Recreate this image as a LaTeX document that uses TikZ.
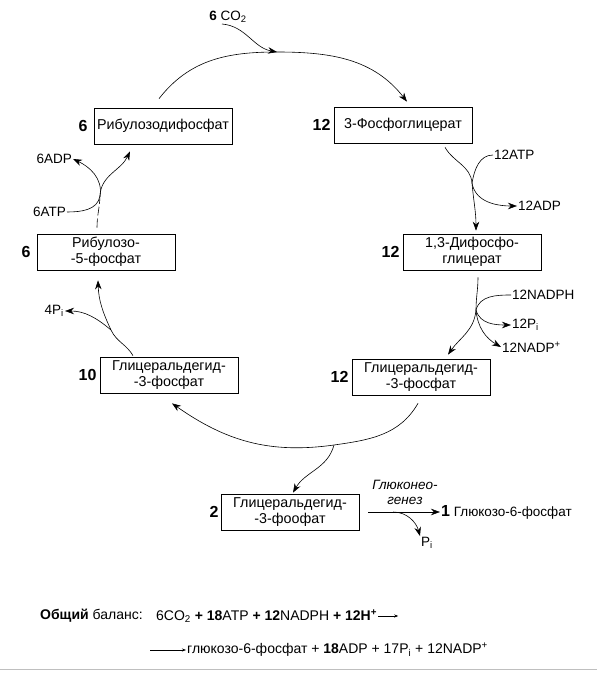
\documentclass[tikz,border=0pt]{standalone}
\usepackage{fontspec}
\setmainfont{Liberation Sans}
\usetikzlibrary{arrows.meta,positioning}

\tikzset{
  stage/.style={draw, line width=0.7pt, minimum width=138pt, minimum height=36pt,
    align=center, inner sep=1pt, font=\fontsize{14.3}{16}\selectfont},
  num/.style={inner sep=1pt, font=\fontsize{16}{18}\selectfont\bfseries},
  lbl/.style={inner sep=1pt, font=\fontsize{13.5}{15}\selectfont},
  arr/.style={line width=0.6pt, -{Stealth[length=9pt,width=6.5pt]}},
  link/.style={line width=0.6pt},
  sarr/.style={line width=0.6pt, -{Stealth[length=4pt,width=3pt]}},
}

\begin{document}
\begin{tikzpicture}[x=1pt, y=1pt]
  \useasboundingbox (0,0) rectangle (597,673);

  % ==================================================
  % Boxes of the cycle
  % ==================================================
  \node[stage] (rbp)  at (163,547) {Рибулозодифосфат};
  \node[stage] (pga)  at (403,548) {3-Фосфоглицерат};
  \node[stage] (bpg)  at (472,421) {1,3-Дифосфо-\\глицерат};
  \node[stage] (gapr) at (421,296) {Глицеральдегид-\\-3-фосфат};
  \node[stage] (gapl) at (169,298) {Глицеральдегид-\\-3-фосфат};
  \node[stage] (rup)  at (106,421) {Рибулозо-\\-5-фосфат};
  \node[stage] (gapb) at (290,161) {Глицеральдегид-\\-3-фоофат};

  % -- numbers of molecules
  \node[num, left=5pt of rbp]  (nrbp)  {6};
  \node[num, left=2pt of pga]  (npga)  {12};
  \node[num, left=2pt of bpg]  (nbpg)  {12};
  \node[num, left=2pt of gapr] (ngapr) {12};
  \node[num, left=2pt of gapl] (ngapl) {10};
  \node[num, left=5pt of rup]  (nrup)  {6};
  \node[num, left=1pt of gapb] (ngapb) {2};

  % ==================================================
  % Side substances
  % ==================================================
  \node[lbl] (co2) at (228,656) {\textbf{6} CO\textsubscript{2}};
  \node[lbl, anchor=west] (atpr)  at (493,518) {12ATP};
  \node[lbl, anchor=west] (adpr)  at (517,467) {12ADP};
  \node[lbl, anchor=west] (nadph) at (511,378) {12NADPH};
  \node[lbl, anchor=west] (pir)   at (511,348) {12P\textsubscript{i}};
  \node[lbl, anchor=west] (nadp)  at (501,326) {12NADP\textsuperscript{+}};
  \node[lbl, anchor=east] (pil)   at (65,362)  {4P\textsubscript{i}};
  \node[lbl, anchor=east] (atpl)  at (67,461)  {6ATP};
  \node[lbl, anchor=east] (adpl)  at (73,514)  {6ADP};
  \node[lbl, align=center, font=\fontsize{13.5}{15}\selectfont\itshape] (gng) at (405,181) {Глюконео-\\генез};
  \node[lbl, anchor=west] (glc) at (440,161) {{\fontsize{16}{18}\selectfont\bfseries 1} Глюкозо-6-фосфат};
  \node[lbl] (pib) at (427,130) {P\textsubscript{i}};

  % -- points where side arrows meet the cycle
  \coordinate (jco)   at (277,621);
  \coordinate (jatp)  at (472,490);
  \coordinate (jnad)  at (476,363);
  \coordinate (jbr)   at (334,228);
  \coordinate (jpi)   at (111,343);
  \coordinate (jatpl) at (100,477);
  \coordinate (jglc)  at (393,161);

  % ==================================================
  % Arrows of the cycle
  % ==================================================
  % -- top: carboxylation
  \draw[arr] ([shift={(-4,9)}]rbp.north) to[out=52,in=180] (jco)
    to[out=0,in=128] ([shift={(4,5)}]pga.north);
  \draw[arr] ([xshift=-6pt]co2.south) to[out=-5,in=170] (jco);

  % -- right: phosphorylation
  \draw[arr] ([shift={(42,-4)}]pga.south) to[out=-60,in=95] (jatp)
    to[out=-85,in=90] ([shift={(4,3)}]bpg.north);
  \draw[link] (atpr.west) to[out=180,in=80] (jatp);
  \draw[arr] (jatp) to[out=-80,in=180] (adpr.west);

  % -- right: reduction
  \draw[arr] ([shift={(6,-7)}]bpg.south) to[out=-90,in=90] (jnad)
    to[out=-95,in=55] ([shift={(27,4)}]gapr.north);
  \draw[link] (nadph.west) to[out=180,in=75] (jnad);
  \draw[arr] (jnad) to[out=-75,in=180] (pir.west);
  \draw[arr] (jnad) to[out=-85,in=150] (nadp.west);

  % -- bottom: regeneration and output
  \draw[arr] ([shift={(-3,-8)}]gapr.south) to[out=240,in=8] (jbr)
    to[out=188,in=-35] ([shift={(3,-10)}]gapl.south);
  \draw[arr] (jbr) to[out=-105,in=60] ([shift={(3,1)}]gapb.north);

  % -- left: back to ribulose
  \draw[arr] ([shift={(-36,1)}]gapl.north) to[out=120,in=-65] (jpi)
    to[out=115,in=-88] ([shift={(-8,-10)}]rup.south);
  \draw[arr] (jpi) to[out=140,in=0] (pil.east);

  \draw[link, dash pattern=on 9pt off 3pt] ([shift={(-9,6)}]rup.north) to[out=90,in=-92] (jatpl);
  \draw[arr] (jatpl) to[out=88,in=-115] ([shift={(-33,-7)}]rbp.south);
  \draw[link] (atpl.east) to[out=0,in=-100] (jatpl);
  \draw[arr] (jatpl) to[out=80,in=-25] (adpl.east);

  % -- gluconeogenesis
  \draw[arr] ([xshift=9pt]gapb.east) -- (glc);
  \draw[arr] (jglc) to[out=0,in=105] (pib.north west);

  % ==================================================
  % Overall balance
  % ==================================================
  \begin{scope}[every node/.style={inner sep=1pt, font=\fontsize{14}{16}\selectfont}]
    \node[anchor=west] (bal) at (39,57) {\textbf{Общий} баланс:};
    \node[anchor=west] (lhs) at (155,57) {6CO\textsubscript{2} \textbf{+ 18}ATP \textbf{+ 12}NADPH \textbf{+ 12H\textsuperscript{+}}};
    \node[anchor=west] (rhs) at (186,23) {глюкозо-6-фосфат + \textbf{18}ADP + 17P\textsubscript{i} + 12NADP\textsuperscript{+}};
  \end{scope}
  \draw[sarr] (lhs.east) -- ([xshift=20pt]lhs.east);
  \draw[sarr] ([xshift=-36pt]rhs.west) -- (rhs.west);

  \draw[gray!50, line width=1pt] (0,3) -- (597,3);
\end{tikzpicture}
\end{document}
